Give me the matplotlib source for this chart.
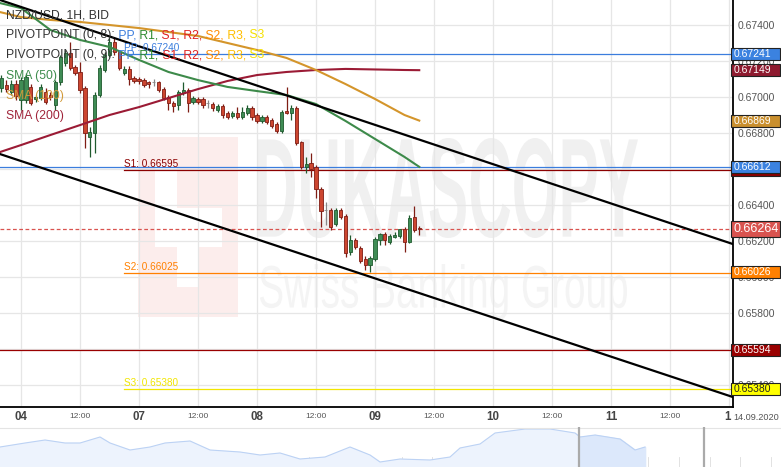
import matplotlib
matplotlib.use("Agg")
import matplotlib.pyplot as plt
import numpy as np
from matplotlib.patches import Rectangle, PathPatch
from matplotlib.textpath import TextPath
from matplotlib.font_manager import FontProperties
from matplotlib.transforms import Affine2D, blended_transform_factory

plt.rcParams['font.family'] = ['Liberation Sans', 'DejaVu Sans']

W, H = 781, 467

# hourly candles, hour 0 = 04.09 00:00 (weekend gap removed)
hours = list(range(-4, 82))
opens = [0.67050, 0.67067, 0.67028, 0.67072, 0.66983, 0.66983, 0.67056, 0.66989, 0.66994, 0.67028,
         0.67011, 0.66956, 0.67083, 0.67189, 0.67244, 0.67167, 0.67139, 0.67050, 0.66778, 0.66800,
         0.67011, 0.67150, 0.67233, 0.67306, 0.67250, 0.67133, 0.67156, 0.67106, 0.67100, 0.67094,
         0.67083, 0.67083, 0.67083, 0.67044, 0.67000, 0.66967, 0.66956, 0.67022, 0.67039, 0.66972,
         0.66989, 0.66989, 0.66967, 0.66961, 0.66928, 0.66950, 0.66911, 0.66894, 0.66911, 0.66889,
         0.66911, 0.66939, 0.66900, 0.66867, 0.66889, 0.66872, 0.66850, 0.66811, 0.66922, 0.66911,
         0.66939, 0.66750, 0.66611, 0.66633, 0.66611, 0.66489, 0.66372, 0.66372, 0.66294, 0.66372,
         0.66339, 0.66139, 0.66206, 0.66161, 0.66100, 0.66067, 0.66100, 0.66206, 0.66239, 0.66194,
         0.66222, 0.66228, 0.66267, 0.66194, 0.66333, 0.66272]
highs = [0.67122, 0.67094, 0.67094, 0.67094, 0.67111, 0.67133, 0.67072, 0.67011, 0.67072, 0.67050,
         0.67028, 0.67094, 0.67233, 0.67261, 0.67306, 0.67178, 0.67194, 0.67061, 0.66833, 0.67028,
         0.67178, 0.67250, 0.67328, 0.67328, 0.67261, 0.67172, 0.67172, 0.67117, 0.67111, 0.67106,
         0.67089, 0.67100, 0.67089, 0.67056, 0.67011, 0.66978, 0.67039, 0.67083, 0.67050, 0.67006,
         0.67000, 0.67000, 0.66983, 0.66972, 0.66961, 0.66961, 0.66922, 0.66922, 0.66944, 0.66944,
         0.66956, 0.66950, 0.66911, 0.66900, 0.66900, 0.66883, 0.66861, 0.66928, 0.67056, 0.66956,
         0.66950, 0.66756, 0.66667, 0.66689, 0.66622, 0.66500, 0.66417, 0.66383, 0.66383, 0.66383,
         0.66350, 0.66233, 0.66217, 0.66172, 0.66117, 0.66117, 0.66222, 0.66244, 0.66250, 0.66239,
         0.66250, 0.66267, 0.66278, 0.66344, 0.66394, 0.66283]
lows = [0.67028, 0.67028, 0.67011, 0.66983, 0.66928, 0.66967, 0.66956, 0.66972, 0.66983, 0.66961,
        0.66983, 0.66928, 0.67067, 0.67172, 0.67150, 0.67122, 0.67022, 0.66717, 0.66667, 0.66689,
        0.67000, 0.67139, 0.67222, 0.67233, 0.67150, 0.67122, 0.67067, 0.67078, 0.67072, 0.67056,
        0.67050, 0.67061, 0.67028, 0.66983, 0.66928, 0.66917, 0.66928, 0.67011, 0.66917, 0.66961,
        0.66961, 0.66939, 0.66939, 0.66922, 0.66917, 0.66883, 0.66878, 0.66883, 0.66878, 0.66878,
        0.66900, 0.66872, 0.66856, 0.66856, 0.66850, 0.66828, 0.66800, 0.66800, 0.66906, 0.66872,
        0.66733, 0.66600, 0.66578, 0.66556, 0.66439, 0.66278, 0.66289, 0.66261, 0.66283, 0.66322,
        0.66111, 0.66122, 0.66156, 0.66078, 0.66039, 0.66028, 0.66089, 0.66178, 0.66178, 0.66183,
        0.66217, 0.66217, 0.66139, 0.66189, 0.66250, 0.66233]
closes = [0.67106, 0.67044, 0.67072, 0.67006, 0.67094, 0.67111, 0.66967, 0.67000, 0.67056, 0.66972,
          0.67000, 0.67083, 0.67222, 0.67244, 0.67161, 0.67133, 0.67039, 0.66800, 0.66806, 0.67011,
          0.67161, 0.67233, 0.67306, 0.67250, 0.67161, 0.67156, 0.67100, 0.67089, 0.67089, 0.67067,
          0.67072, 0.67083, 0.67039, 0.66994, 0.66967, 0.66950, 0.67028, 0.67039, 0.66967, 0.66994,
          0.66972, 0.66956, 0.66967, 0.66939, 0.66950, 0.66900, 0.66889, 0.66911, 0.66889, 0.66917,
          0.66939, 0.66889, 0.66867, 0.66889, 0.66861, 0.66839, 0.66811, 0.66917, 0.66911, 0.66939,
          0.66744, 0.66611, 0.66628, 0.66600, 0.66489, 0.66367, 0.66372, 0.66278, 0.66372, 0.66333,
          0.66133, 0.66206, 0.66167, 0.66089, 0.66067, 0.66106, 0.66211, 0.66239, 0.66206, 0.66228,
          0.66233, 0.66267, 0.66194, 0.66328, 0.66261, 0.66264]

# moving averages
sma_hours = [-4.3, 0, 6, 12, 18, 24, 30, 36, 42, 48, 54, 60, 66, 72, 78, 81]
sma50 = [0.67522, 0.67494, 0.67372, 0.67317, 0.67278, 0.67206, 0.67139, 0.67094,
         0.67056, 0.67033, 0.67011, 0.66961, 0.66867, 0.66767, 0.66667, 0.66612]
sma100 = [0.67472, 0.67444, 0.67428, 0.67417, 0.67400, 0.67383, 0.67361, 0.67339,
          0.67300, 0.67261, 0.67217, 0.67150, 0.67072, 0.66989, 0.66900, 0.66869]
sma200 = [0.66694, 0.66733, 0.66789, 0.66844, 0.66900, 0.66944, 0.66994, 0.67044,
          0.67089, 0.67122, 0.67139, 0.67150, 0.67156, 0.67153, 0.67150, 0.67149]

# channel trendlines (start hour, start price, end hour, end price)
upper_trend = [-4.27, 0.67539, 144.8, 0.66183]
lower_trend = [-4.27, 0.66683, 144.8, 0.65333]

# weekly pivots (0, 8) start Sunday 21:00
pivot_start = 21
pivot_names = ['PP', 'S1', 'S2', 'S3']
pivot_values = [0.67240, 0.66595, 0.66025, 0.65380]
pivot_colors = ['#3b7ddd', '#8b0000', '#ff8000', '#f2e600']
# full width levels
level_values = [0.66612, 0.65594]
level_colors = ['#3b7ddd', '#990000']
last_price = 0.66264

day_hours = [0, 24, 48, 72, 96, 120, 143.6]
day_labels = ['04', '07', '08', '09', '10', '11', '1']
half_hours = [12, 36, 60, 84, 108, 132]

# y ticks shown on the right (0.66600 and 0.65600 sit fully under price tags)
ytick_values = [0.654, 0.658, 0.660, 0.662, 0.664, 0.668, 0.670, 0.672, 0.674]
grid_values = [0.654, 0.656, 0.658, 0.660, 0.662, 0.664, 0.666, 0.668, 0.670, 0.672, 0.674]

# navigator overview series (x, height)
nav_x = [0, 25, 45, 65, 80, 100, 110, 130, 150, 165, 190, 210, 240, 260, 280, 300, 325, 350,
         370, 380, 400, 430, 450, 460, 480, 495, 525, 550, 575, 580, 595, 620, 635, 645]
nav_y = [20, 24, 27, 24, 24, 30, 24, 17, 20, 24, 26, 17, 15, 12, 14, 8, 10, 20,
         12, 5, 8, 7, 10, 19, 23, 34, 38, 38, 34, 30, 32, 28, 17, 20]

x_min, x_max = -4.27, 144.81
y_min, y_max = 0.652778, 0.675389

fig = plt.figure(figsize=(W / 100, H / 100), dpi=100)
fig.patch.set_facecolor('white')
ax = fig.add_axes([0, 1 - 407 / H, 733 / W, 407 / H])
ax.patch.set_alpha(0)
ax.set_xlim(x_min, x_max)
ax.set_ylim(y_min, y_max)

# grid
for yv in grid_values:
    ax.axhline(yv, color='#e6e6e6', lw=0.9, zorder=1)
for xv in range(0, 145, 12):
    ax.axvline(xv, color='#e6e6e6', lw=0.9, zorder=1)

for s in ['top', 'left']:
    ax.spines[s].set_visible(False)
for s in ['right', 'bottom']:
    ax.spines[s].set_color('black')
    ax.spines[s].set_linewidth(1.3)

ax.yaxis.tick_right()
ax.set_yticks(ytick_values)
ax.set_yticklabels([f'{v:.5f}' for v in ytick_values])
ax.tick_params(axis='y', length=0, pad=3.5, labelsize=7.5, labelcolor='#555555')
ax.set_xticks([])

# watermark (figure pixel coordinates)
def fit_text(text, x0, ytop, x1, ybot, color, weight='normal'):
    tp = TextPath((0, 0), text, size=100,
                  prop=FontProperties(family='Liberation Sans', weight=weight))
    e = tp.get_extents()
    tr = (Affine2D().translate(-e.x0, -e.y0)
          .scale((x1 - x0) / e.width, (ybot - ytop) / e.height)
          .translate(x0, H - ybot))
    p = PathPatch(tp, transform=tr, facecolor=color, edgecolor='none', zorder=-2)
    fig.add_artist(p)

def px_rect(x0, ytop, x1, ybot, color):
    r = Rectangle((x0, H - ybot), x1 - x0, ybot - ytop, transform=None,
                  facecolor=color, edgecolor='none', zorder=-2)
    fig.add_artist(r)

px_rect(138, 137, 238, 317, '#fcedec')
px_rect(155, 165, 177, 247, 'white')
px_rect(177, 208, 222, 247, 'white')
px_rect(177, 247, 198, 287, 'white')
fit_text('DUKASCOPY', 258, 138, 638, 238, '#f0f0f0', weight='bold')
fit_text('Swiss Banking Group', 260, 264, 627, 320, '#f4f4f4')

# trendlines
ax.plot(upper_trend[0::2], upper_trend[1::2], color='black', lw=1.6, zorder=6)
ax.plot(lower_trend[0::2], lower_trend[1::2], color='black', lw=1.6, zorder=6)

# levels
for v, c in zip(level_values, level_colors):
    ax.axhline(v, color=c, lw=0.9, zorder=2)
for n, v, c in zip(pivot_names, pivot_values, pivot_colors):
    ax.plot([pivot_start, x_max], [v, v], color=c, lw=0.9, zorder=2)
    ax.text(pivot_start, v + 0.00004, f'{n}: {v:.5f}', color=c, fontsize=7.2,
            va='bottom', ha='left', zorder=7)
ax.axhline(last_price, color='#d9534f', lw=0.9, ls=(0, (3, 2)), zorder=2)

# moving averages
ax.plot(sma_hours, sma200, color='#9b1b35', lw=1.5, zorder=5)
ax.plot(sma_hours, sma100, color='#d4952b', lw=1.5, zorder=5)
ax.plot(sma_hours, sma50, color='#3d8a4a', lw=1.5, zorder=5)

# candles
x = np.array(hours, dtype=float)
o = np.array(opens)
h = np.array(highs)
l = np.array(lows)
c = np.array(closes)
face, edge = [], []
for oo, cc in zip(o, c):
    if cc > oo:
        face.append('#3f8c55'); edge.append('#1f5a2e')
    elif cc < oo:
        face.append('#cc4630'); edge.append('#7f1d14')
    else:
        face.append('#999999'); edge.append('#888888')
ax.vlines(x, l, h, colors=edge, lw=0.9, zorder=3)
body = np.maximum(np.abs(c - o), 0.00002)
ax.bar(x, body, bottom=np.minimum(o, c), width=0.66, color=face,
       edgecolor=edge, linewidth=0.6, zorder=4)

# price tags on the right
tr = blended_transform_factory(ax.transAxes, ax.transData)
dpp = (y_max - y_min) / 407

def tag(val, color, txt='white', hpx=12, fs=7.5, show_text=True):
    ax.add_patch(Rectangle((731 / 733, val - hpx * dpp / 2), 49 / 733, hpx * dpp,
                           transform=tr, facecolor=color, edgecolor='#222222',
                           lw=0.8, clip_on=False, zorder=10))
    if show_text:
        ax.text(734 / 733, val, f'{val:.5f}', transform=tr, color=txt, fontsize=fs,
                va='center', ha='left', clip_on=False, zorder=11)

tag(0.67241, '#3b82e0')
tag(0.67149, '#8e1a2f')
tag(0.66869, '#c98f2e')
tag(0.66595, '#8b0000', show_text=False)
tag(0.66612, '#3b82e0')
tag(0.66026, '#ff8000')
tag(0.65594, '#990000')
tag(0.65380, '#ffff00', txt='#222222')
tag(last_price, '#d9534f', hpx=16, fs=9)

# x labels
tx = blended_transform_factory(ax.transData, ax.transAxes)
ly = -10 / 407
for xv, s in zip(day_hours, day_labels):
    ax.text(xv, ly, s, transform=tx, ha='center', va='center', fontsize=8.3,
            fontweight='bold', color='#444444', clip_on=False)
for xv in half_hours:
    ax.text(xv, ly, '12:00', transform=tx, ha='center', va='center', fontsize=6,
            color='#555555', clip_on=False)
fig.text(756 / W, 1 - 417 / H, '14.09.2020', ha='center', va='center', fontsize=6.6,
         color='#555555')

# legend text in the top-left corner
fig.canvas.draw()
rend = fig.canvas.get_renderer()

def seq_text(x0, y0, parts, fs=8.7):
    xp = x0
    for s, col in parts:
        t = fig.text(xp / W, 1 - y0 / H, s, color=col, fontsize=fs, va='center',
                     ha='left', zorder=20)
        xp += t.get_window_extent(rend).width

piv = [(' PP,', '#3b7ddd'), (' R1,', '#2e8b2e'), (' S1,', '#e02020'), (' R2,', '#e02020'),
       (' S2,', '#ff8c00'), (' R3,', '#ffbf00'), (' S3', '#f5e000')]
seq_text(6, 15, [('NZD/USD, 1H, BID', '#333333')])
seq_text(6, 35, [('PIVOTPOINT (0, 8):', '#333333')] + piv)
seq_text(6, 55, [('PIVOTPOINT (0, 9):', '#333333')] + piv)
seq_text(6, 76, [('SMA (50)', '#3d8c4c')])
seq_text(6, 96, [('SMA (100)', '#d29a3a')])
seq_text(6, 116, [('SMA (200)', '#a0243a')])

# navigator
nav = fig.add_axes([0, 0, 1, 40 / H])
nav.set_xlim(0, W)
nav.set_ylim(0, 40)
nav.axis('off')
nav.fill_between(nav_x, nav_y, 0, color='#edf3fd', zorder=1)
nav.plot(nav_x, nav_y, color='#bcd2f4', lw=0.8, zorder=2)
sel = [i for i, v in enumerate(nav_x) if v >= 579]
nav.fill_between([579] + [nav_x[i] for i in sel], [31] + [nav_y[i] for i in sel], 0,
                 color='#dce8fb', zorder=1.5)
for xv in np.arange(32, W, 30.8):
    nav.plot([xv, xv], [0, 10], color='#dddddd', lw=0.6, zorder=0.5)
nav.plot([0, W], [39.5, 39.5], color='#e4e4e4', lw=0.8)
for xv in [579, 704]:
    nav.plot([xv, xv], [0, 40], color='#aaaaaa', lw=1.6, zorder=3)

fig.savefig('out.png', dpi=100)
